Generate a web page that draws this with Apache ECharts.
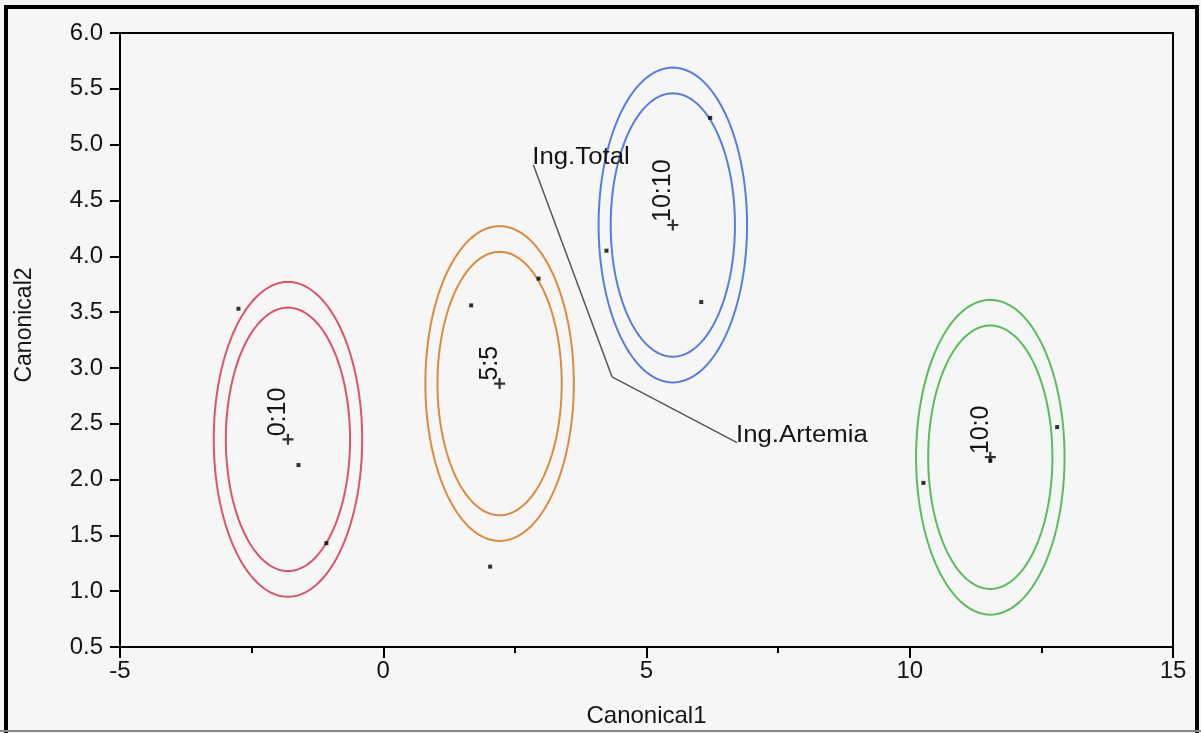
<!DOCTYPE html>
<html><head><meta charset="utf-8">
<script src="https://cdn.jsdelivr.net/npm/echarts@6/dist/echarts.min.js"></script>
<style>html,body{margin:0;padding:0;background:#f6f6f6}#c{width:1201px;height:733px}</style>
</head><body><div id="c"></div>
<script>
// ---- data ----
const groups = ['0:10', '5:5', '10:10', '10:0'];
const groupColors = ['#d9566a', '#d98c40', '#5a7ce0', '#5cbb5c'];
const centroidX = [-1.81, 2.21, 5.50, 11.53];
const centroidY = [2.36, 2.86, 4.28, 2.20];
const outerRadius = [1.41, 1.41, 1.41, 1.41];
const innerRadius = [1.18, 1.18, 1.18, 1.18];
const obsX = [-2.75, -1.61, -1.08, 1.67, 2.95, 2.03, 6.21, 4.24, 6.04, 10.26, 12.80, 11.53];
const obsY = [3.53, 2.13, 1.43, 3.56, 3.80, 1.22, 5.24, 4.05, 3.59, 1.97, 2.47, 2.17];
const biplotCenter = [4.345, 2.92];
const varNames = ['Ing.Total', 'Ing.Artemia'];
const varEndX = [2.85, 6.72];
const varEndY = [4.82, 2.33];
const xMin = -5, xMax = 15, xStep = 5;
const yMin = 0.5, yMax = 6.0, yStep = 0.5;

const FONT = '"Liberation Sans", Arial, Helvetica, sans-serif';
const TXT = '#151515';

const ellData = groups.map((g, i) => [centroidX[i], centroidY[i], outerRadius[i], innerRadius[i], i]);
const obsData = obsX.map((x, i) => [x, obsY[i]]);
const cenData = centroidX.map((x, i) => [x, centroidY[i]]);
const varData = varNames.map((n, i) => [varEndX[i], varEndY[i], i]);

function ellipse(c, rx, ry, color) {
  const pts = [];
  const N = 144;
  for (let k = 0; k <= N; k++) {
    const a = 2 * Math.PI * k / N;
    pts.push([c[0] + rx * Math.cos(a), c[1] + ry * Math.sin(a)]);
  }
  return { type: 'polyline', shape: { points: pts }, style: { fill: null, stroke: color, lineWidth: 2 } };
}

const chart = echarts.init(document.getElementById('c'), null, { renderer: 'canvas' });
chart.setOption({
  animation: false,
  backgroundColor: '#f6f6f6',
  grid: { left: 120, right: 28, top: 33, bottom: 86, show: true, backgroundColor: '#f6f6f6', borderColor: '#000', borderWidth: 2 },
  xAxis: {
    type: 'value', min: xMin, max: xMax, interval: xStep,
    name: 'Canonical1', nameLocation: 'middle', nameGap: 57,
    nameTextStyle: { fontSize: 24, color: TXT, fontFamily: FONT },
    axisLine: { show: true, onZero: false, lineStyle: { color: '#000', width: 2 } },
    axisTick: { show: true, length: 11, lineStyle: { color: '#000', width: 2 } },
    minorTick: { show: true, splitNumber: 2, length: 6, lineStyle: { color: '#000', width: 2 } },
    splitLine: { show: false }, minorSplitLine: { show: false },
    axisLabel: { fontSize: 24, color: TXT, fontFamily: FONT, margin: 12 }
  },
  yAxis: {
    type: 'value', min: yMin, max: yMax, interval: yStep,
    name: 'Canonical2', nameLocation: 'middle', nameGap: 84,
    nameTextStyle: { fontSize: 23, color: TXT, fontFamily: FONT, padding: [0, 0, 0, 30] },
    axisLine: { show: true, onZero: false, lineStyle: { color: '#000', width: 2 } },
    axisTick: { show: true, length: 10, lineStyle: { color: '#000', width: 2 } },
    splitLine: { show: false },
    axisLabel: { fontSize: 24, color: TXT, fontFamily: FONT, margin: 17, formatter: v => v.toFixed(1) }
  },
  graphic: [
    { type: 'rect', silent: true, z: 100, shape: { x: 6, y: 7, width: 1191, height: 760 }, style: { fill: null, stroke: '#000', lineWidth: 4 } },
    { type: 'line', silent: true, z: 101, shape: { x1: 0, y1: 731, x2: 1201, y2: 731 }, style: { stroke: '#8a8a8a', lineWidth: 2 } }
  ],
  series: [
    {
      type: 'custom', silent: true, z: 2,
      encode: { x: 0, y: 1 },
      data: ellData,
      renderItem: function (params, api) {
        const i = api.value(4);
        const c = api.coord([api.value(0), api.value(1)]);
        const so = api.size([api.value(2), api.value(2)]);
        const si = api.size([api.value(3), api.value(3)]);
        const col = groupColors[i];
        return {
          type: 'group',
          children: [
            ellipse(c, so[0], so[1], col),
            ellipse(c, si[0], si[1], col),
            {
              type: 'text', x: c[0] + 3, y: c[1] - 3, rotation: Math.PI / 2,
              style: { text: groups[i], fill: TXT, fontSize: 25, fontFamily: FONT, align: 'left', verticalAlign: 'bottom' }
            }
          ]
        };
      }
    },
    {
      type: 'custom', silent: true, z: 2,
      encode: { x: 0, y: 1 },
      data: varData,
      renderItem: function (params, api) {
        const i = api.value(2);
        const p0 = api.coord(biplotCenter);
        const p1 = api.coord([api.value(0), api.value(1)]);
        return {
          type: 'group',
          children: [
            { type: 'line', shape: { x1: p0[0], y1: p0[1], x2: p1[0], y2: p1[1] }, style: { stroke: '#555', lineWidth: 1.5 } },
            { type: 'text', x: p1[0] - 1, y: p1[1] + 4, scaleX: 1.12,
              style: { text: varNames[i], fill: TXT, fontSize: 23, fontFamily: FONT, align: 'left', verticalAlign: 'bottom' } }
          ]
        };
      }
    },
    {
      type: 'scatter', silent: true, z: 3,
      symbol: 'rect', symbolSize: 4,
      itemStyle: { color: '#000' },
      data: obsData
    },
    {
      type: 'scatter', silent: true, z: 4,
      symbol: 'path://M4,0H6V4H10V6H6V10H4V6H0V4H4Z', symbolSize: 11,
      itemStyle: { color: '#000' },
      data: cenData
    }
  ]
});
</script>
</body></html>
